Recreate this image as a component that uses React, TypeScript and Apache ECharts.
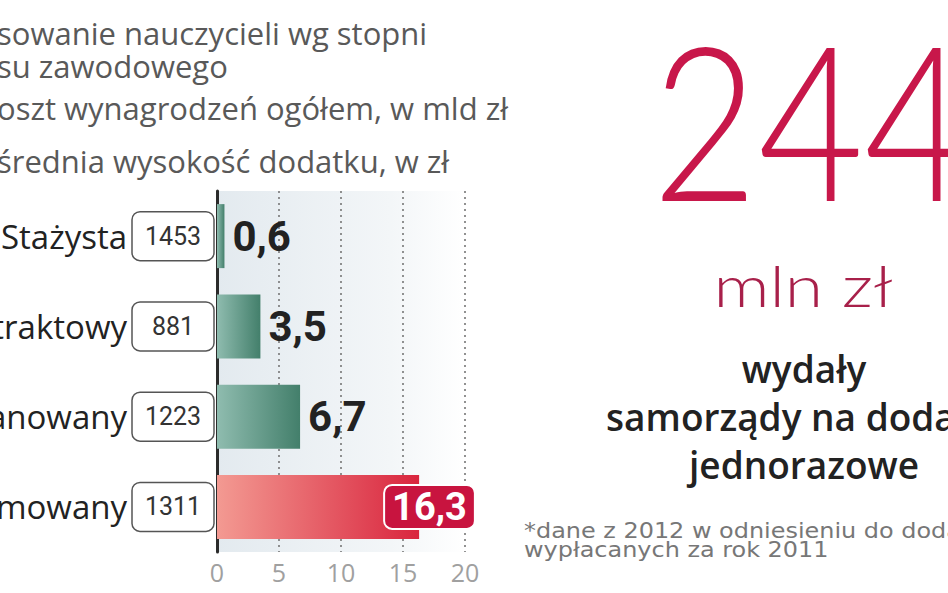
import { useEffect, useRef } from 'react';
import * as echarts from 'echarts';

// ---- data ----
const categories = ['Stażysta', 'Kontraktowy', 'Mianowany', 'Dyplomowany'];
const payrollBn = [0.6, 3.5, 6.7, 16.3]; // koszt wynagrodzeń ogółem, w mld zł
const avgBonus = [1453, 881, 1223, 1311]; // średnia wysokość dodatku, w zł
const axisMin = 0;
const axisMax = 20;
const axisStep = 5;
const legendLines = [
  'sowanie nauczycieli wg stopni',
  'su zawodowego',
  'oszt wynagrodzeń ogółem, w mld zł',
  'średnia wysokość dodatku, w zł',
];
const headlineValue = '244';
const headlineUnit = 'mln zł';
const headlineText = ['wydały', 'samorządy na dodatki', 'jednorazowe'];
const footnoteLines = ['*dane z 2012 w odniesieniu do dodatków', 'wypłacanych za rok 2011'];

const fmt = (v: number) => v.toFixed(1).replace('.', ',');

export default function App() {
  const ref = useRef<HTMLDivElement>(null);
  useEffect(() => {
    if (!ref.current) return;
    const chart = echarts.init(ref.current, undefined, { renderer: 'svg' });

    const teal = new echarts.graphic.LinearGradient(0, 0, 1, 0, [
      { offset: 0, color: '#8fbcaf' },
      { offset: 1, color: '#437f6b' },
    ]);
    const red = new echarts.graphic.LinearGradient(0, 0, 1, 0, [
      { offset: 0, color: '#f39a92' },
      { offset: 1, color: '#d9253e' },
    ]);
    const highlightIdx = payrollBn.length - 1;

    const seriesData = payrollBn.map((v, i) => ({
      value: v,
      itemStyle: { color: i === highlightIdx ? red : teal },
      label:
        i === highlightIdx
          ? {
              position: 'right',
              distance: 0,
              offset: [-34, 0],
              color: '#ffffff',
              backgroundColor: '#c8143f',
              borderColor: '#ffffff',
              borderWidth: 2,
              borderRadius: 7,
              padding: [2, 7],
              fontSize: 38,
              lineHeight: 38,
            }
          : undefined,
    }));

    const option: any = {
      animation: false,
      backgroundColor: '#ffffff',
      grid: {
        left: 217,
        right: 483,
        top: 191,
        bottom: 41,
        containLabel: false,
        outerBoundsMode: 'none',
        show: true,
        borderWidth: 0,
        backgroundColor: new echarts.graphic.LinearGradient(0, 0, 1, 0, [
          { offset: 0, color: '#e3eaef' },
          { offset: 0.7, color: '#f3f6f8' },
          { offset: 1, color: '#ffffff' },
        ]),
      },
      xAxis: {
        type: 'value',
        min: axisMin,
        max: axisMax,
        interval: axisStep,
        axisLine: { show: false },
        axisTick: { show: false },
        splitLine: {
          show: true,
          lineStyle: { color: '#777777', width: 1.6, type: [2, 4] },
        },
        axisLabel: {
          color: '#a0a0a0',
          fontSize: 25,
          fontFamily: 'Open Sans',
          margin: 7,
          showMinLabel: true,
          showMaxLabel: true,
          hideOverlap: false,
        },
      },
      yAxis: {
        type: 'category',
        data: categories,
        inverse: true,
        axisLine: { show: true, lineStyle: { color: '#2b2b2b', width: 3 } },
        axisTick: { show: false },
        splitLine: { show: false },
        axisLabel: {
          margin: 3,
          formatter: (value: string, index: number) => `{n|${value}}{b|${avgBonus[index]}}`,
          rich: {
            n: {
              fontSize: 33,
              fontFamily: 'Open Sans',
              color: '#222222',
              padding: [0, 5, 0, 0],
            },
            b: {
              fontSize: 25,
              fontFamily: 'Roboto',
              color: '#333333',
              width: 70,
              align: 'center',
              lineHeight: 32,
              padding: [12, 6],
              borderColor: '#555555',
              borderWidth: 1.5,
              borderRadius: 8,
            },
          },
        },
      },
      series: [
        {
          type: 'bar',
          data: seriesData,
          barWidth: 64,
          label: {
            show: true,
            position: 'right',
            distance: 8,
            formatter: (p: any) => fmt(p.value),
            fontSize: 42,
            fontWeight: 'bold',
            fontFamily: 'Roboto',
            color: '#222222',
          },
        },
      ],
      graphic: [
        ...legendLines.map((t, i) => ({
          type: 'text',
          x: -3,
          y: [33, 66, 108, 161][i],
          style: {
            text: t,
            fontSize: 31,
            fontFamily: 'Open Sans',
            fill: '#595959',
            verticalAlign: 'middle',
            textAlign: 'left',
          },
        })),
        {
          type: 'text',
          x: 652,
          y: 117,
          scaleX: 0.85,
          style: {
            text: headlineValue,
            fontSize: 215,
            fontFamily: 'Lato',
            fontWeight: 300,
            fill: '#c8174a',
            verticalAlign: 'middle',
            textAlign: 'left',
          },
        },
        {
          type: 'text',
          x: 803,
          y: 285,
          scaleX: 1.2,
          style: {
            text: headlineUnit,
            fontSize: 58,
            fontFamily: 'Lato',
            fontWeight: 300,
            fill: '#a8204a',
            verticalAlign: 'middle',
            textAlign: 'center',
          },
        },
        {
          type: 'text',
          x: 804,
          y: 416,
          style: {
            text: headlineText.join('\n'),
            fontSize: 37,
            lineHeight: 48,
            fontFamily: 'Open Sans',
            fontWeight: 600,
            fill: '#222222',
            verticalAlign: 'middle',
            textAlign: 'center',
          },
        },
        {
          type: 'text',
          x: 524,
          y: 540,
          scaleX: 1.14,
          style: {
            text: footnoteLines.join('\n'),
            fontSize: 21,
            lineHeight: 19,
            fontFamily: 'DejaVu Sans',
            fill: '#777777',
            verticalAlign: 'middle',
            textAlign: 'left',
          },
        },
      ],
    };
    chart.setOption(option);
    return () => chart.dispose();
  }, []);
  return (
    <div
      ref={ref}
      style={{ position: 'absolute', left: 0, top: 0, width: 948, height: 593 }}
    />
  );
}
